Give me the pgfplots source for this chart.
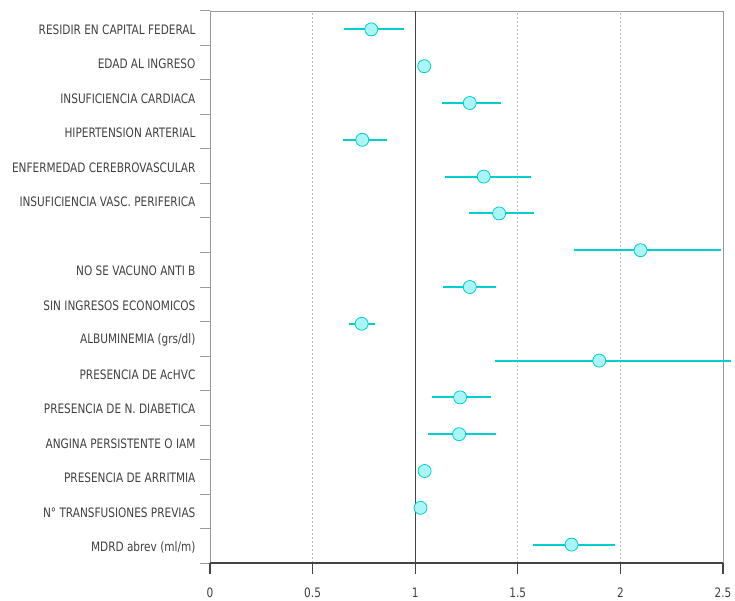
\documentclass[border=0pt]{standalone}
\usepackage{fontspec}
\setmainfont{DejaVu Sans Condensed}[FakeStretch=0.9]
\usepackage{pgfplots}
\usepackage{pgfplotstable}
\pgfplotsset{compat=1.18}
\definecolor{cy}{HTML}{00CED1}
\definecolor{cyfill}{HTML}{ABF5F5}
\definecolor{txt}{HTML}{404040}
\definecolor{frame}{HTML}{999999}
\definecolor{axisdark}{HTML}{444444}

\pgfplotstableread{
y est em ep
14.5 0.786 0.134 0.159
13.5 1.044 0 0
12.5 1.266 0.133 0.151
11.5 0.742 0.093 0.119
10.5 1.334 0.189 0.229
9.5 1.409 0.148 0.170
8.5 2.098 0.324 0.394
7.5 1.266 0.131 0.128
6.5 0.739 0.061 0.065
5.5 1.897 0.506 0.640
4.5 1.219 0.138 0.151
3.5 1.214 0.150 0.180
2.5 1.046 0 0
1.5 1.026 0 0
0.5 1.762 0.188 0.213
}\data

\begin{document}
\begin{tikzpicture}
\begin{axis}[
  at={(210pt,37pt)}, anchor=south west,
  scale only axis, width=513pt, height=552pt,
  xmin=0, xmax=2.5, ymin=0, ymax=15,
  clip=false,
  axis line style={frame, line width=0.8pt},
  xtick={0,0.5,1,1.5,2,2.5},
  xticklabels={0,0.5,1,1.5,2,2.5},
  xtick pos=left, ytick pos=left,
  major tick length=0pt,
  ytick={0.46875,1.40625,2.34375,3.28125,4.21875,5.15625,6.09375,7.03125,7.96875,8.90625,9.84375,10.78125,11.71875,12.65625,13.59375,14.53125},
  yticklabels={MDRD abrev (ml/m),N° TRANSFUSIONES PREVIAS,PRESENCIA DE ARRITMIA,ANGINA PERSISTENTE O IAM,PRESENCIA DE N. DIABETICA,PRESENCIA DE AcHVC,ALBUMINEMIA (grs/dl),SIN INGRESOS ECONOMICOS,NO SE VACUNO ANTI B,{},INSUFICIENCIA VASC. PERIFERICA,ENFERMEDAD CEREBROVASCULAR,HIPERTENSION ARTERIAL,INSUFICIENCIA CARDIACA,EDAD AL INGRESO,RESIDIR EN CAPITAL FEDERAL},
  yticklabel style={font=\fontsize{13}{15}\selectfont, text=txt, anchor=east, xshift=-11pt, yshift=-1.5pt},
  xticklabel style={font=\fontsize{13}{15}\selectfont, text=txt, yshift=-21pt},
]
\draw[gray!55, line width=1pt, dash pattern=on 2pt off 2pt] (axis cs:0.5,0) -- (axis cs:0.5,15);
\draw[gray!55, line width=1pt, dash pattern=on 2pt off 2pt] (axis cs:1.5,0) -- (axis cs:1.5,15);
\draw[gray!55, line width=1pt, dash pattern=on 2pt off 2pt] (axis cs:2,0) -- (axis cs:2,15);
\draw[axisdark, line width=1pt] (axis cs:1,0) -- (axis cs:1,15);
\pgfplotsinvokeforeach{0,0.9375,1.875,2.8125,3.75,4.6875,5.625,6.5625,7.5,8.4375,9.375,10.3125,11.25,12.1875,13.125,14.0625,15}{
  \draw[frame, line width=1pt] (axis cs:0,#1) -- ++(-10pt,0);
}
\pgfplotsinvokeforeach{0,0.5,1,1.5,2,2.5}{
  \draw[axisdark, line width=1.2pt] (axis cs:#1,0) -- ++(0,-11pt);
}
\draw[axisdark, line width=1.2pt] (axis cs:0,0) -- (axis cs:2.5,0);
\addplot[only marks, mark=*, mark size=6.5pt,
  mark options={fill=cyfill, draw=cy, line width=0.8pt},
  error bars/.cd, x dir=both, x explicit, error mark=none,
  error bar style={cy, line width=2pt}]
  table[x=est, y=y, x error plus=ep, x error minus=em] {\data};
\end{axis}
\pgfresetboundingbox
\path[use as bounding box] (0,0) rectangle (735pt,600pt);
\end{tikzpicture}
\end{document}
